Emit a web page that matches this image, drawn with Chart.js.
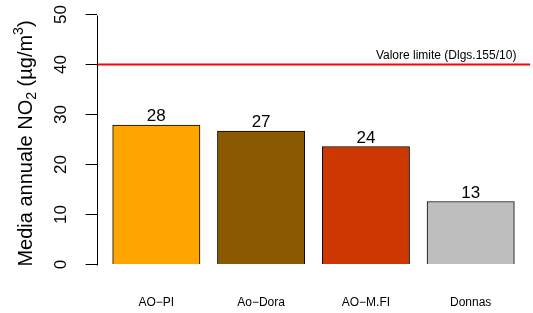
<!DOCTYPE html>
<html>
<head>
<meta charset="utf-8">
<script src="https://cdn.jsdelivr.net/npm/chart.js@4/dist/chart.umd.min.js"></script>
<style>
html,body{margin:0;padding:0;background:#fff;}
#wrap{width:533px;height:313px;position:relative;}
</style>
</head>
<body>
<div id="wrap"><canvas id="c" width="533" height="313"></canvas></div>
<script>
// ---- data ----
const categories = ['AO\u2212PI', 'Ao\u2212Dora', 'AO\u2212M.FI', 'Donnas'];
const values = [27.9, 26.7, 23.6, 12.6];
const barColors = ['#FFA500', '#8B5A00', '#CD3700', '#BEBEBE'];
const limitValue = 40;
const limitLabel = 'Valore limite (Dlgs.155/10)';
const yTicks = [0, 10, 20, 30, 40, 50];
// y-axis title: "Media annuale NO₂ (µg/m³)" as plain / subscript / superscript parts
const yTitleParts = [
  { text: 'Media annuale NO', kind: 'normal' },
  { text: '2', kind: 'sub' },
  { text: ' (\u00B5g/m', kind: 'normal' },
  { text: '3', kind: 'sup' },
  { text: ')', kind: 'normal' }
];

// ---- R barplot-like layout (width 1, space 0.2, 4% axis padding) ----
const FONT = '"Liberation Sans", Arial, Helvetica, sans-serif';
const space = 0.2;
const mid = i => space + i * (1 + space) + 0.5;
const xLo = space, xHi = categories.length * (1 + space);
const xPad = (xHi - xLo) * 0.04;
const xMin = xLo - xPad, xMax = xHi + xPad;
const yLo = 0, yHi = 50, yPad = (yHi - yLo) * 0.04;

Chart.defaults.font.family = FONT;
Chart.defaults.color = '#000';

const overlay = {
  id: 'overlay',
  afterDatasetsDraw(chart) {
    const ctx = chart.ctx, ys = chart.scales.y, ca = chart.chartArea;
    ctx.save();
    // y axis line from 0 to 50
    ctx.strokeStyle = '#000';
    ctx.lineWidth = 1;
    const ax = Math.round(ca.left) + 0.5;
    ctx.beginPath();
    ctx.moveTo(ax, Math.round(ys.getPixelForValue(yTicks[0])) + 0.5);
    ctx.lineTo(ax, Math.round(ys.getPixelForValue(yTicks[yTicks.length - 1])) + 0.5);
    ctx.stroke();
    // value labels
    ctx.fillStyle = '#000';
    ctx.font = '17px ' + FONT;
    ctx.textAlign = 'center';
    ctx.textBaseline = 'alphabetic';
    chart.getDatasetMeta(0).data.forEach((bar, i) => {
      ctx.fillText(String(Math.round(values[i])), bar.x, bar.y - 4);
    });
    // limit label
    ctx.font = '12px ' + FONT;
    ctx.textAlign = 'right';
    ctx.fillText(limitLabel, ca.right - 14, ys.getPixelForValue(limitValue) - 6);
    // y-axis title with sub/superscripts
    const base = 20, small = 14;
    const fontFor = k => (k === 'normal' ? base : small) + 'px ' + FONT;
    let total = 0;
    yTitleParts.forEach(p => { ctx.font = fontFor(p.kind); p.w = ctx.measureText(p.text).width; total += p.w; });
    ctx.translate(32, (ca.top + ca.bottom) / 2 + 4);
    ctx.rotate(-Math.PI / 2);
    ctx.textAlign = 'left';
    let x = -total / 2;
    yTitleParts.forEach(p => {
      ctx.font = fontFor(p.kind);
      const dy = p.kind === 'sub' ? 4 : (p.kind === 'sup' ? -9 : 0);
      ctx.fillText(p.text, x, dy);
      x += p.w;
    });
    ctx.restore();
  }
};

new Chart(document.getElementById('c'), {
  data: {
    datasets: [
      {
        type: 'bar',
        data: values.map((v, i) => ({ x: mid(i), y: v })),
        backgroundColor: barColors,
        borderColor: '#000',
        borderWidth: 1,
        barThickness: 87.3,
        order: 2
      },
      {
        type: 'line',
        data: [{ x: xMin, y: limitValue }, { x: xMax, y: limitValue }],
        borderColor: '#FF0000',
        borderWidth: 2,
        pointRadius: 0,
        fill: false,
        order: 1
      }
    ]
  },
  options: {
    responsive: false,
    animation: false,
    events: [],
    layout: { padding: { left: 0, right: 2.6, top: 4.5, bottom: 0 } },
    plugins: { legend: { display: false }, tooltip: { enabled: false } },
    scales: {
      x: {
        type: 'linear',
        min: xMin,
        max: xMax,
        offset: false,
        afterBuildTicks: s => { s.ticks = categories.map((c, i) => ({ value: mid(i) })); },
        afterFit: s => { s.height = 38.5; s.paddingLeft = 0; s.paddingRight = 0; },
        border: { display: false },
        grid: { display: false, drawTicks: false },
        ticks: {
          autoSkip: false, minRotation: 0, maxRotation: 0, padding: 21,
          font: { size: 12 }, color: '#000',
          callback: (v, i) => categories[i]
        }
      },
      y: {
        type: 'linear',
        min: yLo - yPad,
        max: yHi + yPad,
        afterBuildTicks: s => { s.ticks = yTicks.map(v => ({ value: v })); },
        afterFit: s => { s.width = 96.6; s.paddingTop = 0; s.paddingBottom = 0; },
        border: { display: false },
        grid: { drawOnChartArea: false, drawTicks: true, tickLength: 11, color: '#000', lineWidth: 1 },
        ticks: {
          minRotation: 90, maxRotation: 90, crossAlign: 'center', padding: 15,
          font: { size: 17 }, color: '#000'
        },
        title: { display: false }
      }
    }
  },
  plugins: [overlay]
});
</script>
</body>
</html>
